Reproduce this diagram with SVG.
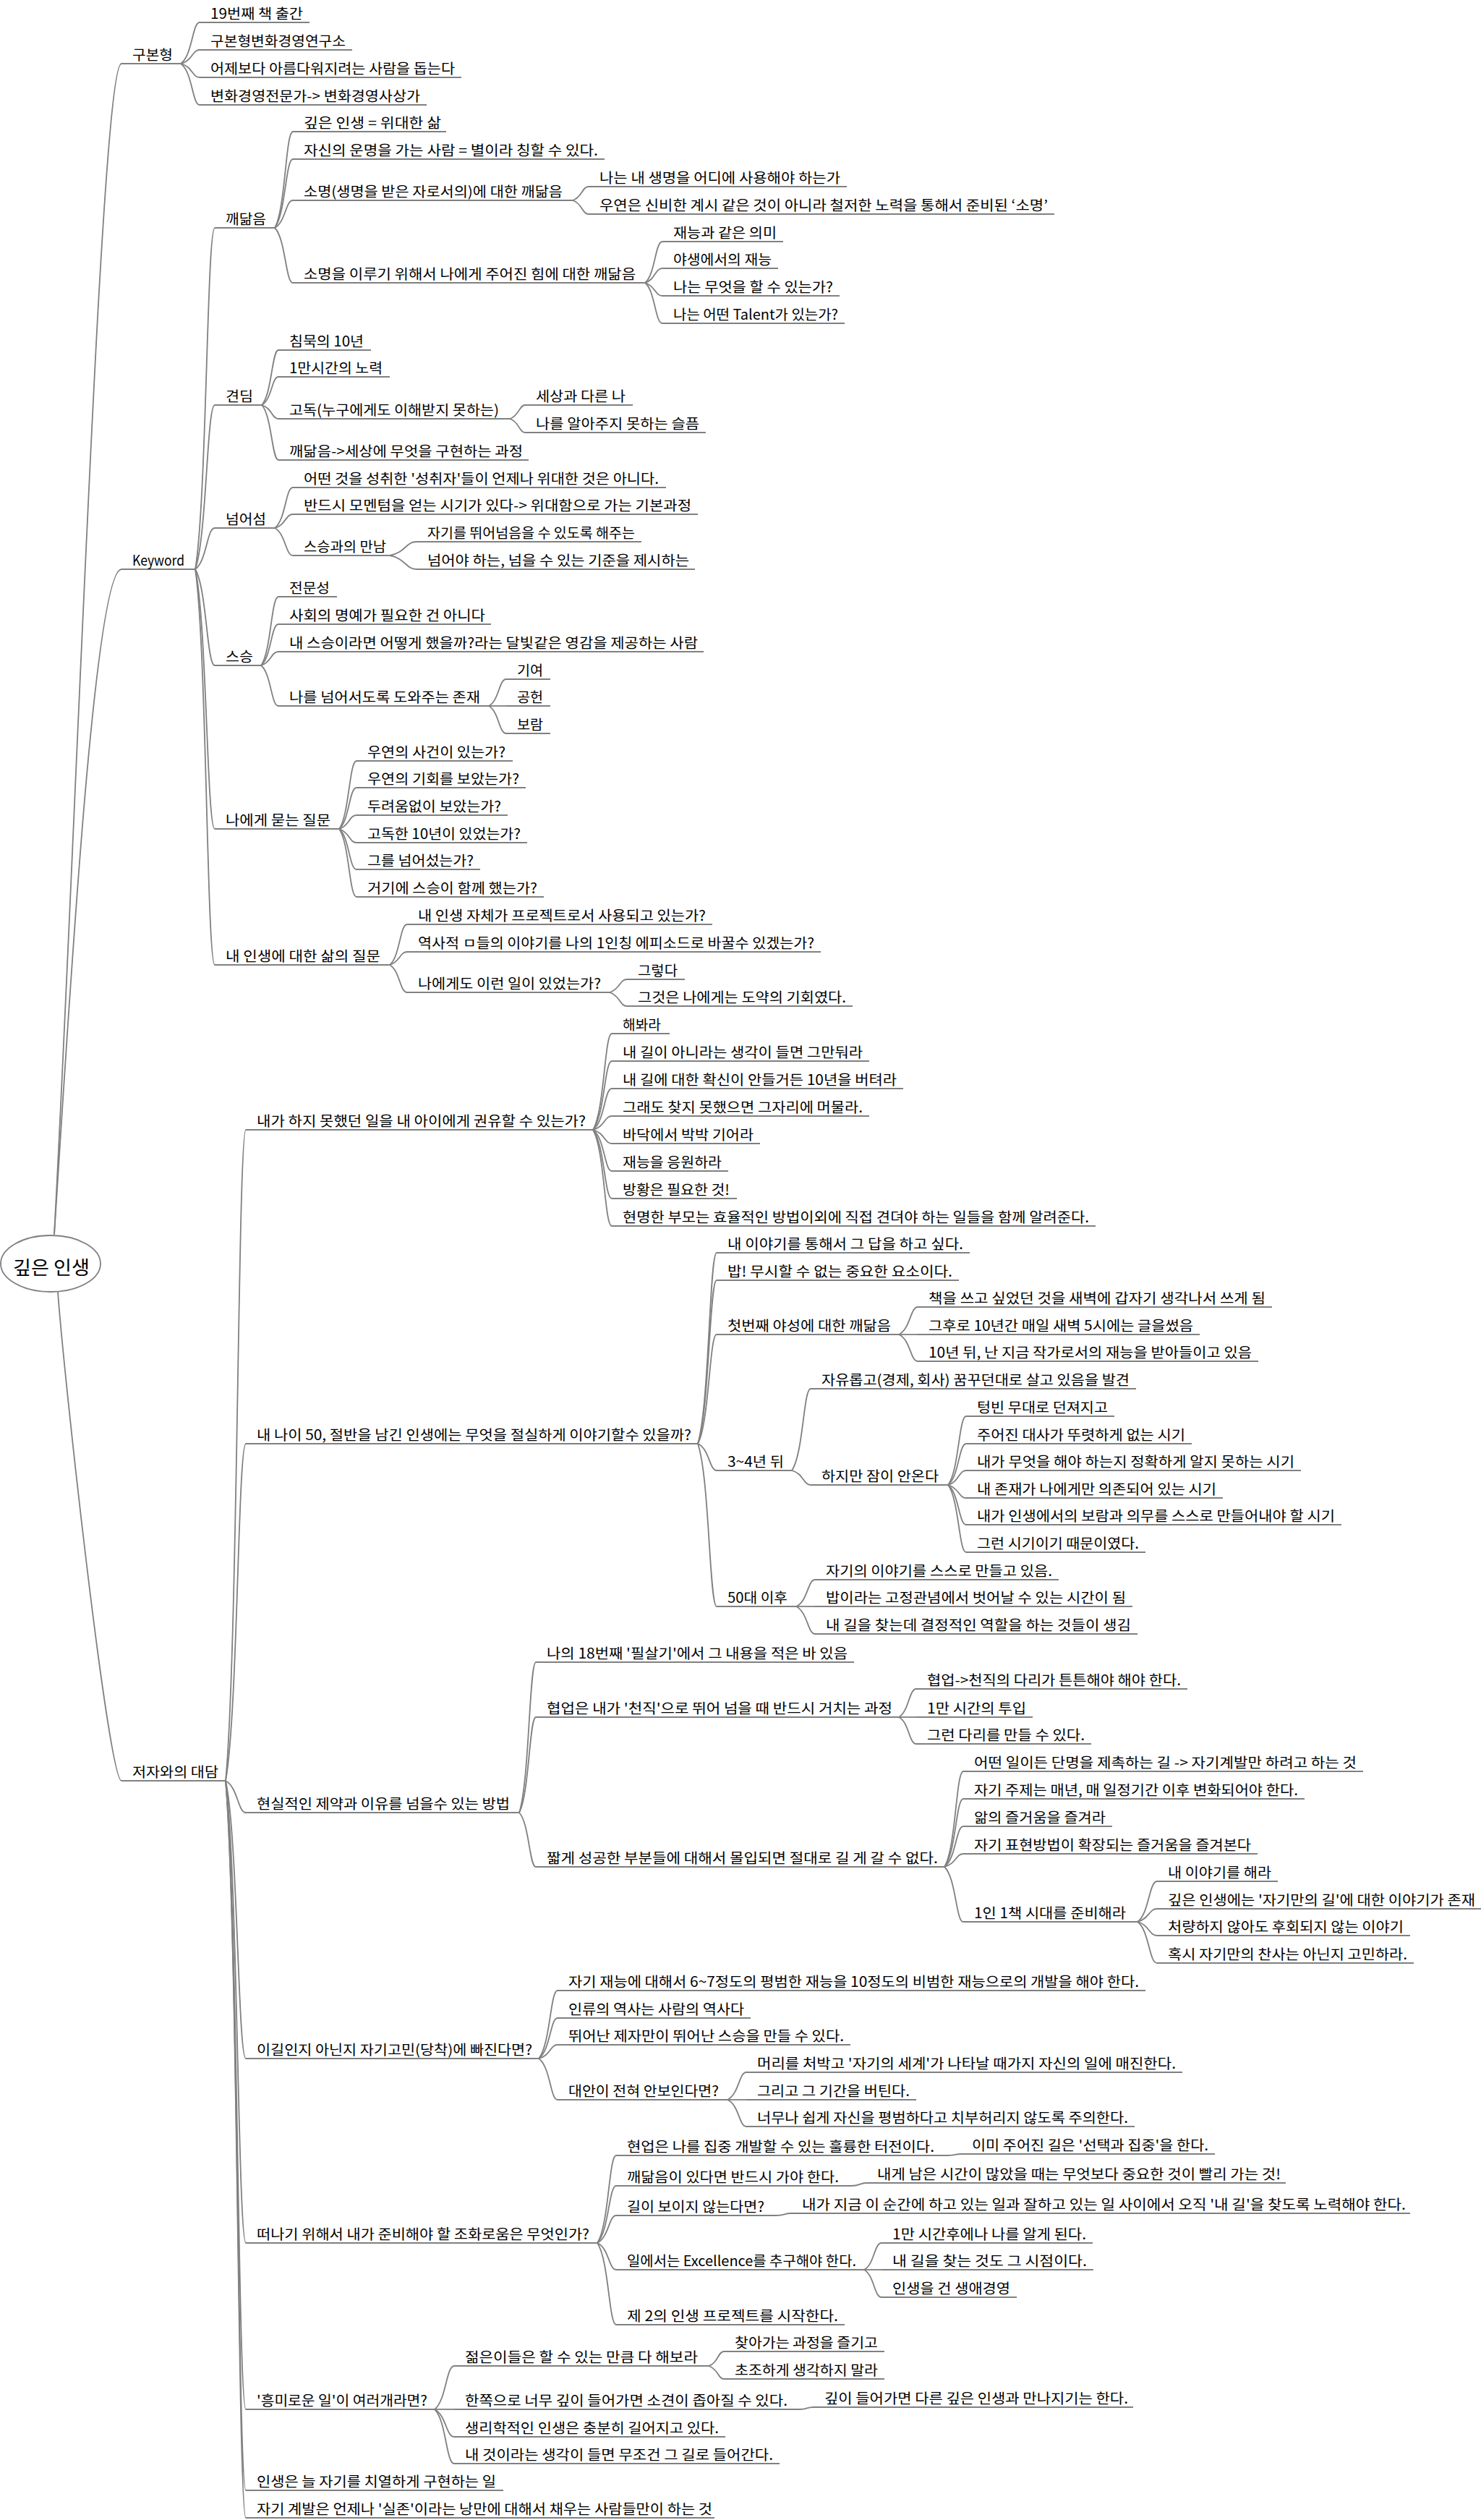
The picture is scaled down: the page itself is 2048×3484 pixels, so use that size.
<svg xmlns="http://www.w3.org/2000/svg" width="2048" height="3484" viewBox="0 0 2048 3484">
<style>
.u{stroke:#808080;stroke-width:1.8;fill:none}
#connectors path{stroke:#808080;stroke-width:1.8;fill:none}
text{font-family:"Noto Sans CJK KR","Noto Sans",sans-serif;font-size:19.4px;fill:#000}
.root text{font-size:26px}
</style>
<rect width="2048" height="3484" fill="#fff"/>
<g id="connectors">
<path d="M75,1707 C105,1150 140,88 168,88"/>
<path d="M75,1707 C95,1400 130,787 168,787"/>
<path d="M80,1786 C88,1900 150,2462 168,2462"/>
<path d="M250,88 C266,77 266,31 276,31"/>
<path d="M250,88 C266,84 266,69 276,69"/>
<path d="M250,88 C266,92 266,107 276,107"/>
<path d="M250,88 C266,99 266,145 276,145"/>
<path d="M270,787 C286,693 286,315 297,315"/>
<path d="M270,787 C286,742 286,560 297,560"/>
<path d="M270,787 C286,776 286,730 297,730"/>
<path d="M270,787 C286,814 286,920 297,920"/>
<path d="M270,787 C286,859 286,1146 297,1146"/>
<path d="M270,787 C286,896 286,1334 297,1334"/>
<path d="M380,315 C395,288 395,182 405,182"/>
<path d="M380,315 C395,296 395,220 405,220"/>
<path d="M380,315 C395,307 395,277 405,277"/>
<path d="M380,315 C395,330 395,391 405,391"/>
<path d="M792,277 C805,273 805,258 814,258"/>
<path d="M792,277 C805,281 805,296 814,296"/>
<path d="M892,391 C906,380 906,334 916,334"/>
<path d="M892,391 C906,387 906,371 916,371"/>
<path d="M892,391 C906,395 906,409 916,409"/>
<path d="M892,391 C906,402 906,447 916,447"/>
<path d="M362,560 C376,545 376,484 385,484"/>
<path d="M362,560 C376,552 376,521 385,521"/>
<path d="M362,560 C376,564 376,579 385,579"/>
<path d="M362,560 C376,575 376,636 385,636"/>
<path d="M705,579 C718,575 718,560 726,560"/>
<path d="M705,579 C718,583 718,598 726,598"/>
<path d="M380,730 C395,719 395,674 405,674"/>
<path d="M380,730 C395,726 395,711 405,711"/>
<path d="M380,730 C395,738 395,768 405,768"/>
<path d="M539,768 C561,764 561,749 576,749"/>
<path d="M539,768 C561,772 561,787 576,787"/>
<path d="M361,920 C375,901 375,825 385,825"/>
<path d="M361,920 C375,909 375,863 385,863"/>
<path d="M361,920 C375,916 375,901 385,901"/>
<path d="M361,920 C375,931 375,976 385,976"/>
<path d="M676,976 C690,969 690,939 700,939"/>
<path d="M676,976 L700,976"/>
<path d="M676,976 C690,984 690,1014 700,1014"/>
<path d="M469,1146 C483,1127 483,1052 493,1052"/>
<path d="M469,1146 C483,1135 483,1089 493,1089"/>
<path d="M469,1146 C483,1142 483,1127 493,1127"/>
<path d="M469,1146 C483,1150 483,1165 493,1165"/>
<path d="M469,1146 C483,1157 483,1202 493,1202"/>
<path d="M469,1146 C483,1165 483,1240 493,1240"/>
<path d="M539,1334 C553,1323 553,1278 563,1278"/>
<path d="M539,1334 C553,1330 553,1316 563,1316"/>
<path d="M539,1334 C553,1342 553,1372 563,1372"/>
<path d="M843,1372 C857,1368 857,1354 867,1354"/>
<path d="M843,1372 C857,1376 857,1391 867,1391"/>
<path d="M312,2462 C329,2282 329,1562 340,1562"/>
<path d="M312,2462 C329,2369 329,1996 340,1996"/>
<path d="M312,2462 C329,2471 329,2506 340,2506"/>
<path d="M312,2462 C329,2539 329,2846 340,2846"/>
<path d="M312,2462 C329,2590 329,3101 340,3101"/>
<path d="M312,2462 C329,2636 329,3331 340,3331"/>
<path d="M312,2462 C329,2658 329,3443 340,3443"/>
<path d="M312,2462 C329,2666 329,3481 340,3481"/>
<path d="M820,1562 C836,1535 836,1429 846,1429"/>
<path d="M820,1562 C836,1543 836,1467 846,1467"/>
<path d="M820,1562 C836,1551 836,1505 846,1505"/>
<path d="M820,1562 C836,1558 836,1543 846,1543"/>
<path d="M820,1562 C836,1566 836,1581 846,1581"/>
<path d="M820,1562 C836,1573 836,1619 846,1619"/>
<path d="M820,1562 C836,1581 836,1657 846,1657"/>
<path d="M820,1562 C836,1589 836,1695 846,1695"/>
<path d="M965,1996 C981,1943 981,1732 991,1732"/>
<path d="M965,1996 C981,1951 981,1770 991,1770"/>
<path d="M965,1996 C981,1966 981,1845 991,1845"/>
<path d="M965,1996 C981,2003 981,2033 991,2033"/>
<path d="M965,1996 C981,2041 981,2221 991,2221"/>
<path d="M1243,1845 C1259,1837 1259,1807 1269,1807"/>
<path d="M1243,1845 L1269,1845"/>
<path d="M1243,1845 C1259,1852 1259,1882 1269,1882"/>
<path d="M1095,2033 C1111,2010 1111,1920 1121,1920"/>
<path d="M1095,2033 C1111,2037 1111,2053 1121,2053"/>
<path d="M1311,2053 C1326,2034 1326,1958 1336,1958"/>
<path d="M1311,2053 C1326,2042 1326,1996 1336,1996"/>
<path d="M1311,2053 C1326,2049 1326,2033 1336,2033"/>
<path d="M1311,2053 C1326,2057 1326,2071 1336,2071"/>
<path d="M1311,2053 C1326,2064 1326,2108 1336,2108"/>
<path d="M1311,2053 C1326,2072 1326,2146 1336,2146"/>
<path d="M1101,2221 C1117,2214 1117,2184 1127,2184"/>
<path d="M1101,2221 L1127,2221"/>
<path d="M1101,2221 C1117,2229 1117,2259 1127,2259"/>
<path d="M718,2506 C732,2464 732,2298 741,2298"/>
<path d="M718,2506 C732,2480 732,2374 741,2374"/>
<path d="M718,2506 C732,2521 732,2581 741,2581"/>
<path d="M1243,2374 C1257,2366 1257,2335 1267,2335"/>
<path d="M1243,2374 L1267,2374"/>
<path d="M1243,2374 C1257,2381 1257,2411 1267,2411"/>
<path d="M1306,2581 C1322,2555 1322,2449 1332,2449"/>
<path d="M1306,2581 C1322,2562 1322,2487 1332,2487"/>
<path d="M1306,2581 C1322,2570 1322,2525 1332,2525"/>
<path d="M1306,2581 C1322,2577 1322,2563 1332,2563"/>
<path d="M1306,2581 C1322,2596 1322,2657 1332,2657"/>
<path d="M1573,2657 C1589,2646 1589,2601 1600,2601"/>
<path d="M1573,2657 C1589,2653 1589,2639 1600,2639"/>
<path d="M1573,2657 C1589,2661 1589,2676 1600,2676"/>
<path d="M1573,2657 C1589,2668 1589,2714 1600,2714"/>
<path d="M745,2846 C761,2827 761,2752 771,2752"/>
<path d="M745,2846 C761,2835 761,2790 771,2790"/>
<path d="M745,2846 C761,2842 761,2827 771,2827"/>
<path d="M745,2846 C761,2857 761,2903 771,2903"/>
<path d="M1006,2903 C1022,2895 1022,2865 1032,2865"/>
<path d="M1006,2903 L1032,2903"/>
<path d="M1006,2903 C1022,2910 1022,2940 1032,2940"/>
<path d="M826,3101 C842,3077 842,2980 852,2980"/>
<path d="M826,3101 C842,3085 842,3022 852,3022"/>
<path d="M826,3101 C842,3093 842,3063 852,3063"/>
<path d="M826,3101 C842,3108 842,3138 852,3138"/>
<path d="M826,3101 C842,3124 842,3214 852,3214"/>
<path d="M1311,2980 C1322,2980 1320,2978 1329,2978"/>
<path d="M1177,3022 C1190,3022 1188,3018 1198,3018"/>
<path d="M1073,3063 C1086,3063 1084,3060 1094,3060"/>
<path d="M1195,3138 C1209,3131 1209,3101 1219,3101"/>
<path d="M1195,3138 L1219,3138"/>
<path d="M1195,3138 C1209,3146 1209,3176 1219,3176"/>
<path d="M601,3331 C617,3319 617,3271 628,3271"/>
<path d="M601,3331 L628,3331"/>
<path d="M601,3331 C617,3339 617,3369 628,3369"/>
<path d="M601,3331 C617,3346 617,3406 628,3406"/>
<path d="M980,3271 C993,3267 993,3251 1001,3251"/>
<path d="M980,3271 C993,3275 993,3289 1001,3289"/>
<path d="M1106,3331 C1117,3331 1115,3328 1125,3328"/>
</g>
<g id="root" class="root"><ellipse cx="70" cy="1747" rx="69" ry="39" fill="#fff" stroke="#808080" stroke-width="1.8"/><text x="18" y="1762" textLength="106" lengthAdjust="spacingAndGlyphs">깊은 인생</text></g>
<g id="n-gubonhyeong"><path class="u" d="M168,88 H250"/><text x="183" y="83" textLength="56" lengthAdjust="spacingAndGlyphs">구본형</text></g>
<g id="n-keyword"><path class="u" d="M168,787 H270"/><text x="183" y="782" textLength="72" lengthAdjust="spacingAndGlyphs">Keyword</text></g>
<g id="n-daedam"><path class="u" d="M168,2462 H312"/><text x="183" y="2457" textLength="119" lengthAdjust="spacingAndGlyphs">저자와의 대담</text></g>
<g id="n-a1"><path class="u" d="M276,31 H428"/><text x="291" y="26" textLength="128" lengthAdjust="spacingAndGlyphs">19번째 책 출간</text></g>
<g id="n-a2"><path class="u" d="M276,69 H487"/><text x="291" y="64" textLength="187" lengthAdjust="spacingAndGlyphs">구본형변화경영연구소</text></g>
<g id="n-a3"><path class="u" d="M276,107 H638"/><text x="291" y="102" textLength="338" lengthAdjust="spacingAndGlyphs">어제보다 아름다워지려는 사람을 돕는다</text></g>
<g id="n-a4"><path class="u" d="M276,145 H590"/><text x="291" y="140" textLength="290" lengthAdjust="spacingAndGlyphs">변화경영전문가-&gt; 변화경영사상가</text></g>
<g id="n-b1"><path class="u" d="M297,315 H380"/><text x="312" y="310" textLength="56" lengthAdjust="spacingAndGlyphs">깨닮음</text></g>
<g id="n-b1a"><path class="u" d="M405,182 H617"/><text x="420" y="177" textLength="190" lengthAdjust="spacingAndGlyphs">깊은 인생 = 위대한 삶</text></g>
<g id="n-b1b"><path class="u" d="M405,220 H836"/><text x="420" y="215" textLength="407" lengthAdjust="spacingAndGlyphs">자신의 운명을 가는 사람 = 별이라 칭할 수 있다.</text></g>
<g id="n-b1c"><path class="u" d="M405,277 H792"/><text x="420" y="272" textLength="358" lengthAdjust="spacingAndGlyphs">소명(생명을 받은 자로서의)에 대한 깨닮음</text></g>
<g id="n-b1c1"><path class="u" d="M814,258 H1171"/><text x="829" y="253" textLength="333" lengthAdjust="spacingAndGlyphs">나는 내 생명을 어디에 사용해야 하는가</text></g>
<g id="n-b1c2"><path class="u" d="M814,296 H1458"/><text x="829" y="291" textLength="620" lengthAdjust="spacingAndGlyphs">우연은 신비한 계시 같은 것이 아니라 철저한 노력을 통해서 준비된 ‘소명’</text></g>
<g id="n-b1d"><path class="u" d="M405,391 H892"/><text x="420" y="386" textLength="459" lengthAdjust="spacingAndGlyphs">소명을 이루기 위해서 나에게 주어진 힘에 대한 깨닮음</text></g>
<g id="n-b1d1"><path class="u" d="M916,334 H1083"/><text x="931" y="329" textLength="143" lengthAdjust="spacingAndGlyphs">재능과 같은 의미</text></g>
<g id="n-b1d2"><path class="u" d="M916,371 H1076"/><text x="931" y="366" textLength="136" lengthAdjust="spacingAndGlyphs">야생에서의 재능</text></g>
<g id="n-b1d3"><path class="u" d="M916,409 H1161"/><text x="931" y="404" textLength="221" lengthAdjust="spacingAndGlyphs">나는 무엇을 할 수 있는가?</text></g>
<g id="n-b1d4"><path class="u" d="M916,447 H1168"/><text x="931" y="442" textLength="228" lengthAdjust="spacingAndGlyphs">나는 어떤 Talent가 있는가?</text></g>
<g id="n-b2"><path class="u" d="M297,560 H362"/><text x="312" y="555" textLength="38" lengthAdjust="spacingAndGlyphs">견딤</text></g>
<g id="n-b2a"><path class="u" d="M385,484 H513"/><text x="400" y="479" textLength="103" lengthAdjust="spacingAndGlyphs">침묵의 10년</text></g>
<g id="n-b2b"><path class="u" d="M385,521 H539"/><text x="400" y="516" textLength="129" lengthAdjust="spacingAndGlyphs">1만시간의 노력</text></g>
<g id="n-b2c"><path class="u" d="M385,579 H705"/><text x="400" y="574" textLength="290" lengthAdjust="spacingAndGlyphs">고독(누구에게도 이해받지 못하는)</text></g>
<g id="n-b2c1"><path class="u" d="M726,560 H875"/><text x="741" y="555" textLength="124" lengthAdjust="spacingAndGlyphs">세상과 다른 나</text></g>
<g id="n-b2c2"><path class="u" d="M726,598 H976"/><text x="741" y="593" textLength="226" lengthAdjust="spacingAndGlyphs">나를 알아주지 못하는 슬픔</text></g>
<g id="n-b2d"><path class="u" d="M385,636 H731"/><text x="400" y="631" textLength="323" lengthAdjust="spacingAndGlyphs">깨닮음-&gt;세상에 무엇을 구현하는 과정</text></g>
<g id="n-b3"><path class="u" d="M297,730 H380"/><text x="312" y="725" textLength="56" lengthAdjust="spacingAndGlyphs">넘어섬</text></g>
<g id="n-b3a"><path class="u" d="M405,674 H921"/><text x="420" y="669" textLength="491" lengthAdjust="spacingAndGlyphs">어떤 것을 성취한 '성취자'들이 언제나 위대한 것은 아니다.</text></g>
<g id="n-b3b"><path class="u" d="M405,711 H965"/><text x="420" y="706" textLength="536" lengthAdjust="spacingAndGlyphs">반드시 모멘텀을 얻는 시기가 있다-&gt; 위대함으로 가는 기본과정</text></g>
<g id="n-b3c"><path class="u" d="M405,768 H539"/><text x="420" y="763" textLength="114" lengthAdjust="spacingAndGlyphs">스승과의 만남</text></g>
<g id="n-b3c1"><path class="u" d="M576,749 H887"/><text x="591" y="744" textLength="287" lengthAdjust="spacingAndGlyphs">자기를 뛰어넘음을 수 있도록 해주는</text></g>
<g id="n-b3c2"><path class="u" d="M576,787 H961"/><text x="591" y="782" textLength="362" lengthAdjust="spacingAndGlyphs">넘어야 하는, 넘을 수 있는 기준을 제시하는</text></g>
<g id="n-b4"><path class="u" d="M297,920 H361"/><text x="312" y="915" textLength="38" lengthAdjust="spacingAndGlyphs">스승</text></g>
<g id="n-b4a"><path class="u" d="M385,825 H466"/><text x="400" y="820" textLength="56" lengthAdjust="spacingAndGlyphs">전문성</text></g>
<g id="n-b4b"><path class="u" d="M385,863 H679"/><text x="400" y="858" textLength="271" lengthAdjust="spacingAndGlyphs">사회의 명예가 필요한 건 아니다</text></g>
<g id="n-b4c"><path class="u" d="M385,901 H973"/><text x="400" y="896" textLength="565" lengthAdjust="spacingAndGlyphs">내 스승이라면 어떻게 했을까?라는 달빛같은 영감을 제공하는 사람</text></g>
<g id="n-b4d"><path class="u" d="M385,976 H676"/><text x="400" y="971" textLength="264" lengthAdjust="spacingAndGlyphs">나를 넘어서도록 도와주는 존재</text></g>
<g id="n-b4d1"><path class="u" d="M700,939 H761"/><text x="715" y="934" textLength="36" lengthAdjust="spacingAndGlyphs">기여</text></g>
<g id="n-b4d2"><path class="u" d="M700,976 H761"/><text x="715" y="971" textLength="36" lengthAdjust="spacingAndGlyphs">공헌</text></g>
<g id="n-b4d3"><path class="u" d="M700,1014 H761"/><text x="715" y="1009" textLength="36" lengthAdjust="spacingAndGlyphs">보람</text></g>
<g id="n-b5"><path class="u" d="M297,1146 H469"/><text x="312" y="1141" textLength="145" lengthAdjust="spacingAndGlyphs">나에게 묻는 질문</text></g>
<g id="n-b5a"><path class="u" d="M493,1052 H709"/><text x="508" y="1047" textLength="191" lengthAdjust="spacingAndGlyphs">우연의 사건이 있는가?</text></g>
<g id="n-b5b"><path class="u" d="M493,1089 H727"/><text x="508" y="1084" textLength="210" lengthAdjust="spacingAndGlyphs">우연의 기회를 보았는가?</text></g>
<g id="n-b5c"><path class="u" d="M493,1127 H702"/><text x="508" y="1122" textLength="185" lengthAdjust="spacingAndGlyphs">두려움없이 보았는가?</text></g>
<g id="n-b5d"><path class="u" d="M493,1165 H729"/><text x="508" y="1160" textLength="212" lengthAdjust="spacingAndGlyphs">고독한 10년이 있었는가?</text></g>
<g id="n-b5e"><path class="u" d="M493,1202 H664"/><text x="508" y="1197" textLength="147" lengthAdjust="spacingAndGlyphs">그를 넘어섰는가?</text></g>
<g id="n-b5f"><path class="u" d="M493,1240 H752"/><text x="508" y="1235" textLength="235" lengthAdjust="spacingAndGlyphs">거기에 스승이 함께 했는가?</text></g>
<g id="n-b6"><path class="u" d="M297,1334 H539"/><text x="312" y="1329" textLength="214" lengthAdjust="spacingAndGlyphs">내 인생에 대한 삶의 질문</text></g>
<g id="n-b6a"><path class="u" d="M563,1278 H985"/><text x="578" y="1273" textLength="398" lengthAdjust="spacingAndGlyphs">내 인생 자체가 프로젝트로서 사용되고 있는가?</text></g>
<g id="n-b6b"><path class="u" d="M563,1316 H1135"/><text x="578" y="1311" textLength="548" lengthAdjust="spacingAndGlyphs">역사적 ㅁ들의 이야기를 나의 1인칭 에피소드로 바꿀수 있겠는가?</text></g>
<g id="n-b6c"><path class="u" d="M563,1372 H843"/><text x="578" y="1367" textLength="253" lengthAdjust="spacingAndGlyphs">나에게도 이런 일이 있었는가?</text></g>
<g id="n-b6c1"><path class="u" d="M867,1354 H947"/><text x="882" y="1349" textLength="55" lengthAdjust="spacingAndGlyphs">그렇다</text></g>
<g id="n-b6c2"><path class="u" d="M867,1391 H1179"/><text x="882" y="1386" textLength="288" lengthAdjust="spacingAndGlyphs">그것은 나에게는 도약의 기회였다.</text></g>
<g id="n-c1"><path class="u" d="M340,1562 H820"/><text x="355" y="1557" textLength="455" lengthAdjust="spacingAndGlyphs">내가 하지 못했던 일을 내 아이에게 권유할 수 있는가?</text></g>
<g id="n-c1a"><path class="u" d="M846,1429 H926"/><text x="861" y="1424" textLength="53" lengthAdjust="spacingAndGlyphs">해봐라</text></g>
<g id="n-c1b"><path class="u" d="M846,1467 H1202"/><text x="861" y="1462" textLength="332" lengthAdjust="spacingAndGlyphs">내 길이 아니라는 생각이 들면 그만둬라</text></g>
<g id="n-c1c"><path class="u" d="M846,1505 H1249"/><text x="861" y="1500" textLength="379" lengthAdjust="spacingAndGlyphs">내 길에 대한 확신이 안들거든 10년을 버텨라</text></g>
<g id="n-c1d"><path class="u" d="M846,1543 H1202"/><text x="861" y="1538" textLength="332" lengthAdjust="spacingAndGlyphs">그래도 찾지 못했으면 그자리에 머물라.</text></g>
<g id="n-c1e"><path class="u" d="M846,1581 H1051"/><text x="861" y="1576" textLength="181" lengthAdjust="spacingAndGlyphs">바닥에서 박박 기어라</text></g>
<g id="n-c1f"><path class="u" d="M846,1619 H1007"/><text x="861" y="1614" textLength="137" lengthAdjust="spacingAndGlyphs">재능을 응원하라</text></g>
<g id="n-c1g"><path class="u" d="M846,1657 H1019"/><text x="861" y="1652" textLength="148" lengthAdjust="spacingAndGlyphs">방황은 필요한 것!</text></g>
<g id="n-c1h"><path class="u" d="M846,1695 H1515"/><text x="861" y="1690" textLength="645" lengthAdjust="spacingAndGlyphs">현명한 부모는 효율적인 방법이외에 직접 견뎌야 하는 일들을 함께 알려준다.</text></g>
<g id="n-c2"><path class="u" d="M340,1996 H965"/><text x="355" y="1991" textLength="601" lengthAdjust="spacingAndGlyphs">내 나이 50, 절반을 남긴 인생에는 무엇을 절실하게 이야기할수 있을까?</text></g>
<g id="n-c2a"><path class="u" d="M991,1732 H1341"/><text x="1006" y="1727" textLength="326" lengthAdjust="spacingAndGlyphs">내 이야기를 통해서 그 답을 하고 싶다.</text></g>
<g id="n-c2b"><path class="u" d="M991,1770 H1326"/><text x="1006" y="1765" textLength="311" lengthAdjust="spacingAndGlyphs">밥! 무시할 수 없는 중요한 요소이다.</text></g>
<g id="n-c2c"><path class="u" d="M991,1845 H1243"/><text x="1006" y="1840" textLength="226" lengthAdjust="spacingAndGlyphs">첫번째 야성에 대한 깨닮음</text></g>
<g id="n-c2c1"><path class="u" d="M1269,1807 H1759"/><text x="1284" y="1802" textLength="466" lengthAdjust="spacingAndGlyphs">책을 쓰고 싶었던 것을 새벽에 갑자기 생각나서 쓰게 됨</text></g>
<g id="n-c2c2"><path class="u" d="M1269,1845 H1659"/><text x="1284" y="1840" textLength="366" lengthAdjust="spacingAndGlyphs">그후로 10년간 매일 새벽 5시에는 글을썼음</text></g>
<g id="n-c2c3"><path class="u" d="M1269,1882 H1740"/><text x="1284" y="1877" textLength="447" lengthAdjust="spacingAndGlyphs">10년 뒤, 난 지금 작가로서의 재능을 받아들이고 있음</text></g>
<g id="n-c2d"><path class="u" d="M991,2033 H1095"/><text x="1006" y="2028" textLength="78" lengthAdjust="spacingAndGlyphs">3~4년 뒤</text></g>
<g id="n-c2d1"><path class="u" d="M1121,1920 H1571"/><text x="1136" y="1915" textLength="426" lengthAdjust="spacingAndGlyphs">자유롭고(경제, 회사) 꿈꾸던대로 살고 있음을 발견</text></g>
<g id="n-c2d2"><path class="u" d="M1121,2053 H1311"/><text x="1136" y="2048" textLength="162" lengthAdjust="spacingAndGlyphs">하지만 잠이 안온다</text></g>
<g id="n-c2d2a"><path class="u" d="M1336,1958 H1541"/><text x="1351" y="1953" textLength="181" lengthAdjust="spacingAndGlyphs">텅빈 무대로 던져지고</text></g>
<g id="n-c2d2b"><path class="u" d="M1336,1996 H1648"/><text x="1351" y="1991" textLength="288" lengthAdjust="spacingAndGlyphs">주어진 대사가 뚜렷하게 없는 시기</text></g>
<g id="n-c2d2c"><path class="u" d="M1336,2033 H1799"/><text x="1351" y="2028" textLength="439" lengthAdjust="spacingAndGlyphs">내가 무엇을 해야 하는지 정확하게 알지 못하는 시기</text></g>
<g id="n-c2d2d"><path class="u" d="M1336,2071 H1691"/><text x="1351" y="2066" textLength="331" lengthAdjust="spacingAndGlyphs">내 존재가 나에게만 의존되어 있는 시기</text></g>
<g id="n-c2d2e"><path class="u" d="M1336,2108 H1855"/><text x="1351" y="2103" textLength="495" lengthAdjust="spacingAndGlyphs">내가 인생에서의 보람과 의무를 스스로 만들어내야 할 시기</text></g>
<g id="n-c2d2f"><path class="u" d="M1336,2146 H1584"/><text x="1351" y="2141" textLength="224" lengthAdjust="spacingAndGlyphs">그런 시기이기 때문이였다.</text></g>
<g id="n-c2e"><path class="u" d="M991,2221 H1101"/><text x="1006" y="2216" textLength="83" lengthAdjust="spacingAndGlyphs">50대 이후</text></g>
<g id="n-c2e1"><path class="u" d="M1127,2184 H1464"/><text x="1142" y="2179" textLength="313" lengthAdjust="spacingAndGlyphs">자기의 이야기를 스스로 만들고 있음.</text></g>
<g id="n-c2e2"><path class="u" d="M1127,2221 H1566"/><text x="1142" y="2216" textLength="415" lengthAdjust="spacingAndGlyphs">밥이라는 고정관념에서 벗어날 수 있는 시간이 됨</text></g>
<g id="n-c2e3"><path class="u" d="M1127,2259 H1573"/><text x="1142" y="2254" textLength="422" lengthAdjust="spacingAndGlyphs">내 길을 찾는데 결정적인 역할을 하는 것들이 생김</text></g>
<g id="n-c3"><path class="u" d="M340,2506 H718"/><text x="355" y="2501" textLength="350" lengthAdjust="spacingAndGlyphs">현실적인 제약과 이유를 넘을수 있는 방법</text></g>
<g id="n-c3a"><path class="u" d="M741,2298 H1181"/><text x="756" y="2293" textLength="416" lengthAdjust="spacingAndGlyphs">나의 18번째 '필살기'에서 그 내용을 적은 바 있음</text></g>
<g id="n-c3b"><path class="u" d="M741,2374 H1243"/><text x="756" y="2369" textLength="478" lengthAdjust="spacingAndGlyphs">협업은 내가 '천직'으로 뛰어 넘을 때 반드시 거치는 과정</text></g>
<g id="n-c3b1"><path class="u" d="M1267,2335 H1642"/><text x="1282" y="2330" textLength="351" lengthAdjust="spacingAndGlyphs">협업-&gt;천직의 다리가 튼튼해야 해야 한다.</text></g>
<g id="n-c3b2"><path class="u" d="M1267,2374 H1428"/><text x="1282" y="2369" textLength="137" lengthAdjust="spacingAndGlyphs">1만 시간의 투입</text></g>
<g id="n-c3b3"><path class="u" d="M1267,2411 H1509"/><text x="1282" y="2406" textLength="218" lengthAdjust="spacingAndGlyphs">그런 다리를 만들 수 있다.</text></g>
<g id="n-c3c"><path class="u" d="M741,2581 H1306"/><text x="756" y="2576" textLength="541" lengthAdjust="spacingAndGlyphs">짧게 성공한 부분들에 대해서 몰입되면 절대로 길 게 갈 수 없다.</text></g>
<g id="n-c3c1"><path class="u" d="M1332,2449 H1885"/><text x="1347" y="2444" textLength="529" lengthAdjust="spacingAndGlyphs">어떤 일이든 단명을 제촉하는 길 -&gt; 자기계발만 하려고 하는 것</text></g>
<g id="n-c3c2"><path class="u" d="M1332,2487 H1804"/><text x="1347" y="2482" textLength="448" lengthAdjust="spacingAndGlyphs">자기 주제는 매년, 매 일정기간 이후 변화되어야 한다.</text></g>
<g id="n-c3c3"><path class="u" d="M1332,2525 H1538"/><text x="1347" y="2520" textLength="182" lengthAdjust="spacingAndGlyphs">앎의 즐거움을 즐겨라</text></g>
<g id="n-c3c4"><path class="u" d="M1332,2563 H1739"/><text x="1347" y="2558" textLength="383" lengthAdjust="spacingAndGlyphs">자기 표현방법이 확장되는 즐거움을 즐겨본다</text></g>
<g id="n-c3c5"><path class="u" d="M1332,2657 H1573"/><text x="1347" y="2652" textLength="210" lengthAdjust="spacingAndGlyphs">1인 1책 시대를 준비해라</text></g>
<g id="n-c3c5a"><path class="u" d="M1600,2601 H1767"/><text x="1615" y="2596" textLength="143" lengthAdjust="spacingAndGlyphs">내 이야기를 해라</text></g>
<g id="n-c3c5b"><path class="u" d="M1600,2639 H2048"/><text x="1615" y="2634" textLength="425" lengthAdjust="spacingAndGlyphs">깊은 인생에는 '자기만의 길'에 대한 이야기가 존재</text></g>
<g id="n-c3c5c"><path class="u" d="M1600,2676 H1950"/><text x="1615" y="2671" textLength="326" lengthAdjust="spacingAndGlyphs">처량하지 않아도 후회되지 않는 이야기</text></g>
<g id="n-c3c5d"><path class="u" d="M1600,2714 H1955"/><text x="1615" y="2709" textLength="331" lengthAdjust="spacingAndGlyphs">혹시 자기만의 찬사는 아닌지 고민하라.</text></g>
<g id="n-c4"><path class="u" d="M340,2846 H745"/><text x="355" y="2841" textLength="381" lengthAdjust="spacingAndGlyphs">이길인지 아닌지 자기고민(당착)에 빠진다면?</text></g>
<g id="n-c4a"><path class="u" d="M771,2752 H1584"/><text x="786" y="2747" textLength="789" lengthAdjust="spacingAndGlyphs">자기 재능에 대해서 6~7정도의 평범한 재능을 10정도의 비범한 재능으로의 개발을 해야 한다.</text></g>
<g id="n-c4b"><path class="u" d="M771,2790 H1038"/><text x="786" y="2785" textLength="243" lengthAdjust="spacingAndGlyphs">인류의 역사는 사람의 역사다</text></g>
<g id="n-c4c"><path class="u" d="M771,2827 H1176"/><text x="786" y="2822" textLength="381" lengthAdjust="spacingAndGlyphs">뛰어난 제자만이 뛰어난 스승을 만들 수 있다.</text></g>
<g id="n-c4d"><path class="u" d="M771,2903 H1006"/><text x="786" y="2898" textLength="208" lengthAdjust="spacingAndGlyphs">대안이 전혀 안보인다면?</text></g>
<g id="n-c4d1"><path class="u" d="M1032,2865 H1635"/><text x="1047" y="2860" textLength="579" lengthAdjust="spacingAndGlyphs">머리를 처박고 '자기의 세계'가 나타날 때가지 자신의 일에 매진한다.</text></g>
<g id="n-c4d2"><path class="u" d="M1032,2903 H1267"/><text x="1047" y="2898" textLength="211" lengthAdjust="spacingAndGlyphs">그리고 그 기간을 버틴다.</text></g>
<g id="n-c4d3"><path class="u" d="M1032,2940 H1569"/><text x="1047" y="2935" textLength="513" lengthAdjust="spacingAndGlyphs">너무나 쉽게 자신을 평범하다고 치부허리지 않도록 주의한다.</text></g>
<g id="n-c5"><path class="u" d="M340,3101 H826"/><text x="355" y="3096" textLength="460" lengthAdjust="spacingAndGlyphs">떠나기 위해서 내가 준비해야 할 조화로움은 무엇인가?</text></g>
<g id="n-c5a"><path class="u" d="M852,2980 H1311"/><text x="867" y="2975" textLength="425" lengthAdjust="spacingAndGlyphs">현업은 나를 집중 개발할 수 있는 훌륭한 터전이다.</text></g>
<g id="n-c5a1"><path class="u" d="M1329,2978 H1680"/><text x="1344" y="2973" textLength="327" lengthAdjust="spacingAndGlyphs">이미 주어진 길은 '선택과 집중'을 한다.</text></g>
<g id="n-c5b"><path class="u" d="M852,3022 H1177"/><text x="867" y="3017" textLength="293" lengthAdjust="spacingAndGlyphs">깨닮음이 있다면 반드시 가야 한다.</text></g>
<g id="n-c5b1"><path class="u" d="M1198,3018 H1778"/><text x="1213" y="3013" textLength="558" lengthAdjust="spacingAndGlyphs">내게 남은 시간이 많았을 때는 무엇보다 중요한 것이 빨리 가는 것!</text></g>
<g id="n-c5c"><path class="u" d="M852,3063 H1073"/><text x="867" y="3058" textLength="190" lengthAdjust="spacingAndGlyphs">길이 보이지 않는다면?</text></g>
<g id="n-c5c1"><path class="u" d="M1094,3060 H1950"/><text x="1109" y="3055" textLength="835" lengthAdjust="spacingAndGlyphs">내가 지금 이 순간에 하고 있는 일과 잘하고 있는 일 사이에서 오직 '내 길'을 찾도록 노력해야 한다.</text></g>
<g id="n-c5d"><path class="u" d="M852,3138 H1195"/><text x="867" y="3133" textLength="317" lengthAdjust="spacingAndGlyphs">일에서는 Excellence를 추구해야 한다.</text></g>
<g id="n-c5d1"><path class="u" d="M1219,3101 H1511"/><text x="1234" y="3096" textLength="268" lengthAdjust="spacingAndGlyphs">1만 시간후에나 나를 알게 된다.</text></g>
<g id="n-c5d2"><path class="u" d="M1219,3138 H1512"/><text x="1234" y="3133" textLength="269" lengthAdjust="spacingAndGlyphs">내 길을 찾는 것도 그 시점이다.</text></g>
<g id="n-c5d3"><path class="u" d="M1219,3176 H1406"/><text x="1234" y="3171" textLength="163" lengthAdjust="spacingAndGlyphs">인생을 건 생애경영</text></g>
<g id="n-c5e"><path class="u" d="M852,3214 H1168"/><text x="867" y="3209" textLength="292" lengthAdjust="spacingAndGlyphs">제 2의 인생 프로젝트를 시작한다.</text></g>
<g id="n-c6"><path class="u" d="M340,3331 H601"/><text x="355" y="3326" textLength="236" lengthAdjust="spacingAndGlyphs">'흥미로운 일'이 여러개라면?</text></g>
<g id="n-c6a"><path class="u" d="M628,3271 H980"/><text x="643" y="3266" textLength="322" lengthAdjust="spacingAndGlyphs">젊은이들은 할 수 있는 만큼 다 해보라</text></g>
<g id="n-c6a1"><path class="u" d="M1001,3251 H1223"/><text x="1016" y="3246" textLength="198" lengthAdjust="spacingAndGlyphs">찾아가는 과정을 즐기고</text></g>
<g id="n-c6a2"><path class="u" d="M1001,3289 H1223"/><text x="1016" y="3284" textLength="198" lengthAdjust="spacingAndGlyphs">초조하게 생각하지 말라</text></g>
<g id="n-c6b"><path class="u" d="M628,3331 H1106"/><text x="643" y="3326" textLength="446" lengthAdjust="spacingAndGlyphs">한쪽으로 너무 깊이 들어가면 소견이 좁아질 수 있다.</text></g>
<g id="n-c6b1"><path class="u" d="M1125,3328 H1567"/><text x="1140" y="3323" textLength="420" lengthAdjust="spacingAndGlyphs">깊이 들어가면 다른 깊은 인생과 만나지기는 한다.</text></g>
<g id="n-c6c"><path class="u" d="M628,3369 H1003"/><text x="643" y="3364" textLength="351" lengthAdjust="spacingAndGlyphs">생리학적인 인생은 충분히 길어지고 있다.</text></g>
<g id="n-c6d"><path class="u" d="M628,3406 H1078"/><text x="643" y="3401" textLength="426" lengthAdjust="spacingAndGlyphs">내 것이라는 생각이 들면 무조건 그 길로 들어간다.</text></g>
<g id="n-c7"><path class="u" d="M340,3443 H696"/><text x="355" y="3438" textLength="331" lengthAdjust="spacingAndGlyphs">인생은 늘 자기를 치열하게 구현하는 일</text></g>
<g id="n-c8"><path class="u" d="M340,3481 H988"/><text x="355" y="3476" textLength="630" lengthAdjust="spacingAndGlyphs">자기 계발은 언제나 '실존'이라는 낭만에 대해서 채우는 사람들만이 하는 것</text></g>
</svg>
